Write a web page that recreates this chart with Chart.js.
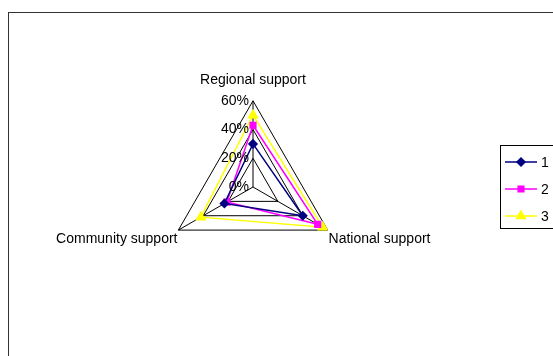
<!DOCTYPE html>
<html>
<head>
<meta charset="utf-8">
<script src="https://cdn.jsdelivr.net/npm/chart.js@4"></script>
<style>
  body { margin: 0; background: #fff; }
  #wrap { position: relative; width: 553px; height: 356px; overflow: hidden; }
  #frame { position: absolute; left: 8px; top: 12px; width: 700px; height: 500px; border-left: 1px solid #333; border-top: 1px solid #333; }
  canvas { position: absolute; left: 0; top: 0; }
</style>
</head>
<body>
<div id="wrap">
  <div id="frame"></div>
  <canvas id="chart" width="553" height="356"></canvas>
</div>
<script>
const categories = ['Regional support', 'National support', 'Community support'];
const seriesNames = ['1', '2', '3'];
const series1 = [30, 40, 23];
const series2 = [43, 52, 21];
const series3 = [50, 56, 42];
const tickValues = [0, 20, 40, 60];

const FONT = 'Liberation Sans, Arial, sans-serif';
Chart.defaults.font.family = FONT;
Chart.defaults.font.size = 14;
Chart.defaults.color = '#000';

// tick labels right aligned against the top axis, like the original
const tickLabelPlugin = {
  id: 'tickLabels',
  afterDraw(chart) {
    const sc = chart.scales.r;
    const ctx = chart.ctx;
    ctx.save();
    ctx.font = '14px ' + FONT;
    ctx.fillStyle = '#000';
    ctx.textAlign = 'right';
    ctx.textBaseline = 'middle';
    sc.ticks.forEach(t => {
      const y = sc.yCenter - sc.getDistanceFromCenterForValue(t.value);
      ctx.fillText(t.label, sc.xCenter - 4, y);
    });
    ctx.restore();
  }
};

// legend box at the right edge
const legendPlugin = {
  id: 'boxLegend',
  afterDraw(chart) {
    const ctx = chart.ctx;
    ctx.save();
    ctx.strokeStyle = '#000';
    ctx.lineWidth = 1;
    ctx.strokeRect(500.5, 145.5, 100, 83);
    chart.data.datasets.forEach((ds, i) => {
      const y = 162 + i * 27;
      ctx.strokeStyle = ds.borderColor;
      ctx.lineWidth = 1.5;
      ctx.beginPath();
      ctx.moveTo(505, y);
      ctx.lineTo(537, y);
      ctx.stroke();
      ctx.fillStyle = ds.pointBackgroundColor;
      Chart.helpers.drawPoint(ctx, { pointStyle: ds.pointStyle, radius: ds.pointRadius, rotation: 0, borderWidth: 1 }, 521, y);
      ctx.fillStyle = '#000';
      ctx.font = '14px ' + FONT;
      ctx.textAlign = 'left';
      ctx.textBaseline = 'middle';
      ctx.fillText(ds.label, 541, y + 1);
    });
    ctx.restore();
  }
};

function makeSet(label, data, color, style, radius) {
  return {
    label: label,
    data: data,
    borderColor: color,
    backgroundColor: color,
    pointBackgroundColor: color,
    pointBorderColor: color,
    pointStyle: style,
    pointRadius: radius,
    pointHoverRadius: radius,
    borderWidth: 1.5,
    fill: false
  };
}

new Chart(document.getElementById('chart'), {
  type: 'radar',
  data: {
    labels: categories,
    datasets: [
      makeSet(seriesNames[0], series1, '#000080', 'rectRot', 4),
      makeSet(seriesNames[1], series2, '#ff00ff', 'rect', 4),
      makeSet(seriesNames[2], series3, '#ffff00', 'triangle', 5)
    ]
  },
  options: {
    responsive: false,
    animation: false,
    layout: { padding: { left: 0, right: 47, top: 58, bottom: 68 } },
    plugins: { legend: { display: false }, tooltip: { enabled: false } },
    scales: {
      r: {
        min: 0,
        max: 60,
        afterBuildTicks(sc) { sc.ticks = tickValues.map(v => ({ value: v })); },
        ticks: { display: false, callback: v => v + '%' },
        grid: { color: '#000', lineWidth: 1 },
        angleLines: { color: '#000', lineWidth: 1 },
        pointLabels: {
          color: '#000',
          font: { size: 14, family: FONT },
          padding: ctx => ctx.index === 0 ? 12 : 1
        }
      }
    }
  },
  plugins: [tickLabelPlugin, legendPlugin]
});
</script>
</body>
</html>
